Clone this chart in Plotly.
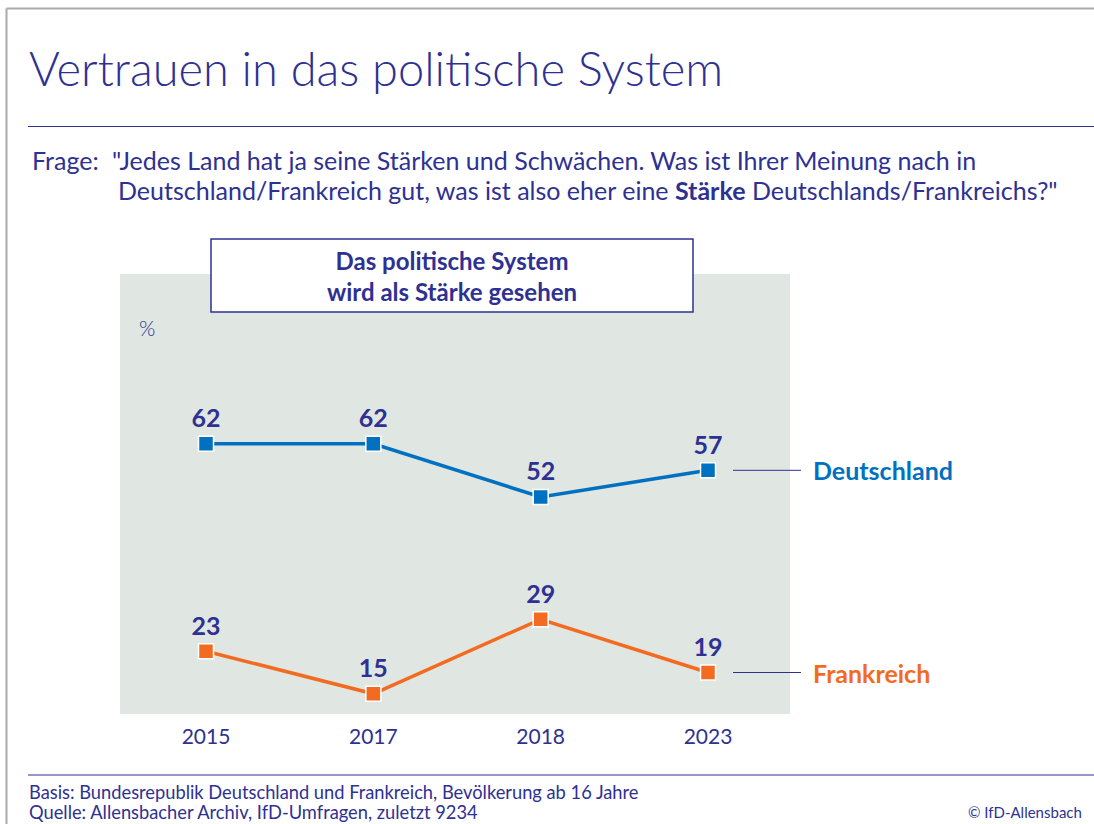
import plotly.graph_objects as go

years = ["2015", "2017", "2018", "2023"]
deutschland = [62, 62, 52, 57]
frankreich = [23, 15, 29, 19]
series_names = ["Deutschland", "Frankreich"]

NAVY = "#2e3192"
BLUE = "#0070c0"
ORANGE = "#f26b21"
BG = "#e0e7e2"
FONT = "Lato"

W, H = 1094, 824
def px(x):
    return x / W
def py(y):
    return 1 - y / H

fig = go.Figure()
for vals, col in [(deutschland, BLUE), (frankreich, ORANGE)]:
    fig.add_trace(go.Scatter(
        x=years, y=vals, mode="lines+markers+text",
        line=dict(color=col, width=3.5),
        marker=dict(symbol="square", size=15, color=col, line=dict(color="white", width=1.5)),
        text=[str(v) for v in vals], textposition="top center",
        textfont=dict(family=FONT, size=25, color=NAVY, weight="bold"),
        cliponaxis=False, showlegend=False, hoverinfo="skip",
    ))

shapes = [
    # page border top/left
    dict(type="line", xref="paper", yref="paper", x0=px(6.5), x1=1, y0=py(8.5), y1=py(8.5), line=dict(color="#aaaaaa", width=2)),
    dict(type="line", xref="paper", yref="paper", x0=px(6.5), x1=px(6.5), y0=py(8.5), y1=0, line=dict(color="#aaaaaa", width=2)),
    # rules
    dict(type="line", xref="paper", yref="paper", x0=px(28), x1=1, y0=py(126.5), y1=py(126.5), line=dict(color=NAVY, width=1.2)),
    dict(type="line", xref="paper", yref="paper", x0=px(28), x1=1, y0=py(775), y1=py(775), line=dict(color=NAVY, width=1.2)),
    # header box
    dict(type="rect", xref="paper", yref="paper", x0=px(211), x1=px(693), y0=py(312), y1=py(239),
         line=dict(color=NAVY, width=1.5), fillcolor="white", layer="above"),
]
annotations = []
for name, vals, col in [(series_names[0], deutschland, BLUE), (series_names[1], frankreich, ORANGE)]:
    shapes.append(dict(type="line", xref="paper", yref="y", x0=px(733), x1=px(801), y0=vals[-1], y1=vals[-1],
                       line=dict(color=NAVY, width=1)))
    annotations.append(dict(xref="paper", yref="y", x=px(811), y=vals[-1], text=name, showarrow=False,
                            xanchor="left", yanchor="middle",
                            font=dict(family=FONT, size=25, color=col, weight="bold")))

def txt(x, y, s, size, anchor="left", weight=300):
    return dict(xref="paper", yref="paper", x=px(x), y=py(y), text=s, showarrow=False,
                xanchor=anchor, yanchor="middle", align=anchor if anchor != "right" else "right",
                font=dict(family=FONT, size=size, color=NAVY, weight=weight))

annotations += [
    txt(27, 68, "Vertrauen in das politische System", 47),
    txt(30, 160, "Frage:", 25, weight=400),
    txt(110, 160, "\"Jedes Land hat ja seine Stärken und Schwächen. Was ist Ihrer Meinung nach in", 25, weight=400),
    txt(116, 190, "Deutschland/Frankreich gut, was ist also eher eine <b>Stärke</b> Deutschlands/Frankreichs?\"", 25, weight=400),
    txt(452, 276, "Das politische System<br>wird als Stärke gesehen", 24, anchor="center", weight="bold"),
    txt(137, 327, "%", 21),
    txt(27, 792, "Basis: Bundesrepublik Deutschland und Frankreich, Bevölkerung ab 16 Jahre", 18.3, weight=400),
    txt(27, 812, "Quelle: Allensbacher Archiv, IfD-Umfragen, zuletzt 9234", 18.3, weight=400),
    txt(1084, 812, "© IfD-Allensbach", 15, anchor="right", weight=400),
]

fig.update_layout(
    width=W, height=H,
    margin=dict(l=0, r=0, t=0, b=0),
    paper_bgcolor="white", plot_bgcolor=BG,
    shapes=shapes, annotations=annotations,
    xaxis=dict(domain=[px(120), px(790)], type="category", range=[-0.514, 3.49],
               showgrid=False, zeroline=False, showline=False, ticks="",
               tickfont=dict(family=FONT, size=21, color=NAVY, weight=400), ticklabelstandoff=8),
    yaxis=dict(domain=[py(714), py(274)], range=[11.2, 93.9], visible=False),
)
fig.write_html("out.html", config={"displayModeBar": False},
               post_script="document.body.style.margin='0px';")
